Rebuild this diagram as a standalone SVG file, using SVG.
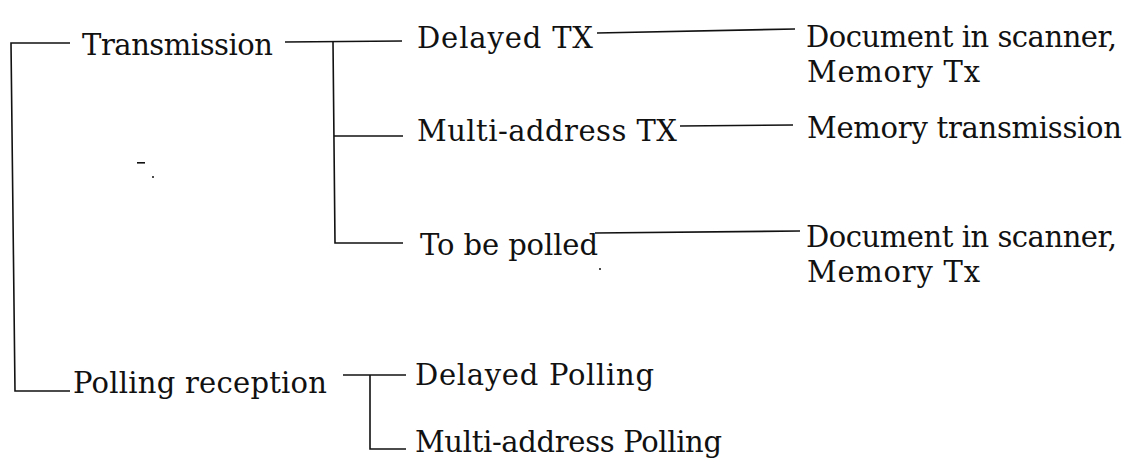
<svg xmlns="http://www.w3.org/2000/svg" width="1147" height="466" viewBox="0 0 1147 466">
<style>
text{font-family:"DejaVu Serif","Liberation Serif",serif;font-size:29px;fill:#111;}
.c{fill:none;stroke:#111;stroke-width:1.6;}
</style>
<rect width="1147" height="466" fill="#fff"/>
<g id="connectors">
<path class="c" d="M70,43 L11,43 L15,391 L70,391"/>
<path class="c" d="M285,42 L402,41"/>
<path class="c" d="M333,42 L335,243 L403,243"/>
<path class="c" d="M334,136 L403,136"/>
<path class="c" d="M597,33 L795,29"/>
<path class="c" d="M680,126 L793,125"/>
<path class="c" d="M595,233 L800,231"/>
<path class="c" d="M343,375 L406,375"/>
<path class="c" d="M370,375 L370,449 L406,449"/>
</g>
<g id="n-transmission"><text x="82" y="55" textLength="191">Transmission</text></g>
<g id="n-delayed-tx"><text x="417" y="48" textLength="176">Delayed TX</text></g>
<g id="n-multi-tx"><text x="417" y="141" textLength="260">Multi-address TX</text></g>
<g id="n-to-be-polled"><text x="420" y="255" textLength="178">To be polled</text></g>
<g id="n-doc1"><text x="806" y="47" textLength="311">Document in scanner,</text><text x="807" y="82" textLength="173">Memory Tx</text></g>
<g id="n-memtx"><text x="807" y="138" textLength="315">Memory transmission</text></g>
<g id="n-doc2"><text x="806" y="247" textLength="311">Document in scanner,</text><text x="807" y="282" textLength="173">Memory Tx</text></g>
<g id="n-polling-reception"><text x="73" y="393" textLength="254">Polling reception</text></g>
<g id="n-delayed-polling"><text x="415" y="385" textLength="239">Delayed Polling</text></g>
<g id="n-multi-polling"><text x="415" y="452" textLength="307">Multi-address Polling</text></g>
<g id="specks" fill="#111">
<rect x="137" y="162" width="8" height="1.6"/>
<circle cx="153" cy="177" r="1"/>
<circle cx="600" cy="269" r="1"/>
</g>
</svg>
